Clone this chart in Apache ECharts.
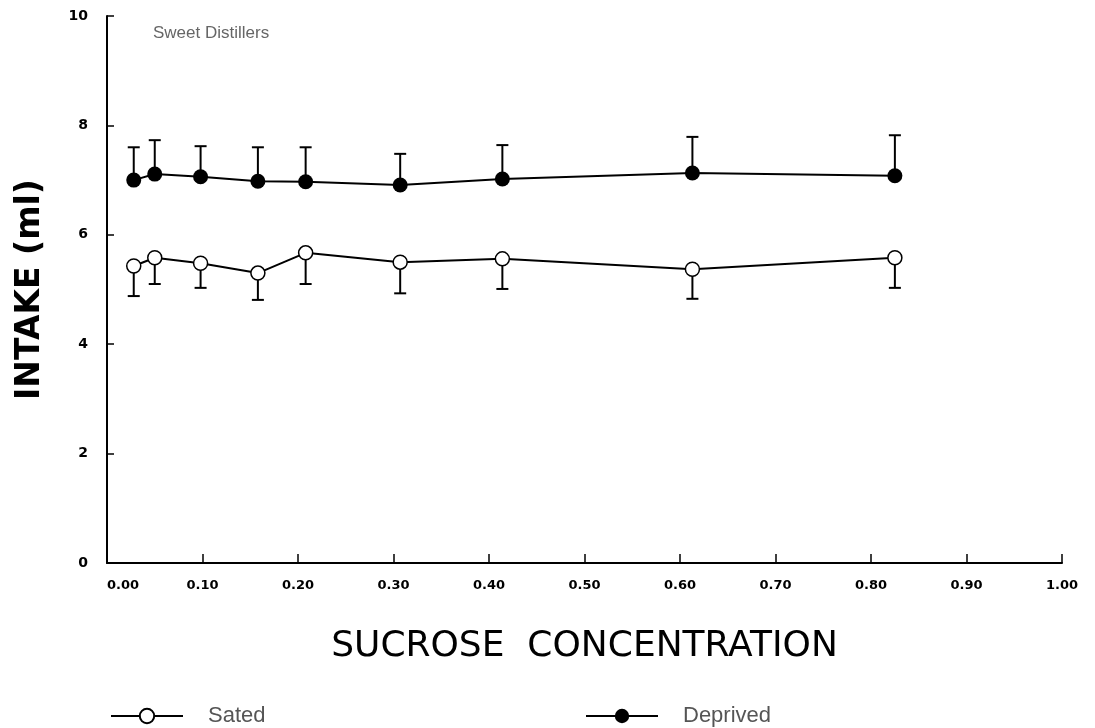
<!DOCTYPE html>
<html>
<head>
<meta charset="utf-8">
<script src="https://cdn.jsdelivr.net/npm/echarts@6/dist/echarts.min.js"></script>
<style>
  html, body { margin: 0; padding: 0; background: #fff; }
  #chart { width: 1095px; height: 728px; }
</style>
</head>
<body>
<div id="chart"></div>
<script>
// sucrose concentrations
const concentrations = [0.028, 0.050, 0.098, 0.158, 0.208, 0.307, 0.414, 0.613, 0.825];
// deprived: mean and top of error bar
const deprivedMean = [7.00, 7.11, 7.06, 6.98, 6.97, 6.91, 7.02, 7.13, 7.08];
const deprivedUpper = [7.60, 7.73, 7.62, 7.60, 7.60, 7.48, 7.64, 7.79, 7.82];
// sated: mean and bottom of error bar
const satedMean = [5.43, 5.58, 5.48, 5.30, 5.67, 5.50, 5.56, 5.37, 5.58];
const satedLower = [4.88, 5.10, 5.03, 4.81, 5.10, 4.93, 5.01, 4.83, 5.03];
const xTicks = [0, 0.1, 0.2, 0.3, 0.4, 0.5, 0.6, 0.7, 0.8, 0.9, 1.0];
const yTicks = [0, 2, 4, 6, 8, 10];

const chart = echarts.init(document.getElementById('chart'));

const errorBar = (params, api) => {
    const from = api.coord([api.value(0), api.value(1)]);
    const to = api.coord([api.value(0), api.value(2)]);
    const half = 6;
    const style = { stroke: '#000', lineWidth: 2 };
    return {
        type: 'group',
        children: [
            { type: 'line', shape: { x1: from[0], y1: from[1], x2: to[0], y2: to[1] }, style },
            { type: 'line', shape: { x1: to[0] - half, y1: to[1], x2: to[0] + half, y2: to[1] }, style }
        ]
    };
};

const legendText = { fontFamily: 'Liberation Sans', fontSize: 22, color: '#555', padding: [0, 0, 0, 20] };

chart.setOption({
    backgroundColor: '#fff',
    animation: false,
    title: {
        text: 'Sweet Distillers',
        left: 148,
        top: 20,
        textStyle: { fontFamily: 'Liberation Sans', fontSize: 17, fontWeight: 'normal', color: '#666' }
    },
    legend: [
        {
            data: ['Sated'],
            left: 105,
            top: 700,
            itemWidth: 72,
            itemHeight: 18,
            textStyle: legendText
        },
        {
            data: ['Deprived'],
            left: 580,
            top: 700,
            itemWidth: 72,
            itemHeight: 18,
            textStyle: legendText
        }
    ],
    grid: { left: 107, right: 33, top: 16, bottom: 165 },
    xAxis: {
        type: 'value',
        min: xTicks[0],
        max: xTicks[xTicks.length - 1],
        interval: 0.1,
        name: 'SUCROSE  CONCENTRATION',
        nameLocation: 'middle',
        nameGap: 66,
        nameTextStyle: { fontFamily: 'DejaVu Sans', fontSize: 36, color: '#000' },
        axisLine: { lineStyle: { color: '#000', width: 2 } },
        axisTick: { inside: true, length: 9, lineStyle: { color: '#000', width: 1.5 } },
        axisLabel: {
            formatter: v => v.toFixed(2),
            fontFamily: 'DejaVu Sans',
            fontWeight: 'bold',
            fontSize: 13,
            color: '#000',
            margin: 16,
            alignMinLabel: 'left'
        },
        splitLine: { show: false }
    },
    yAxis: {
        type: 'value',
        min: yTicks[0],
        max: yTicks[yTicks.length - 1],
        interval: 2,
        name: 'INTAKE (ml)',
        nameLocation: 'middle',
        nameGap: 60,
        nameTextStyle: { fontFamily: 'DejaVu Sans', fontWeight: 'bold', fontSize: 33, color: '#000' },
        axisLine: { show: true, lineStyle: { color: '#000', width: 2 } },
        axisTick: { show: true, inside: true, length: 7, lineStyle: { color: '#000', width: 1.5 } },
        axisLabel: {
            fontFamily: 'DejaVu Sans',
            fontWeight: 'bold',
            fontSize: 14,
            color: '#000',
            margin: 19
        },
        splitLine: { show: false }
    },
    series: [
        {
            name: 'SatedErr',
            type: 'custom',
            renderItem: errorBar,
            z: 1,
            data: concentrations.map((c, i) => [c, satedMean[i], satedLower[i]])
        },
        {
            name: 'DeprivedErr',
            type: 'custom',
            renderItem: errorBar,
            z: 1,
            data: concentrations.map((c, i) => [c, deprivedMean[i], deprivedUpper[i]])
        },
        {
            name: 'Sated',
            type: 'line',
            z: 3,
            symbol: 'circle',
            symbolSize: 14,
            lineStyle: { color: '#000', width: 2 },
            itemStyle: { color: '#fff', borderColor: '#000', borderWidth: 1.5 },
            data: concentrations.map((c, i) => [c, satedMean[i]])
        },
        {
            name: 'Deprived',
            type: 'line',
            z: 3,
            symbol: 'circle',
            symbolSize: 15,
            lineStyle: { color: '#000', width: 2 },
            itemStyle: { color: '#000' },
            data: concentrations.map((c, i) => [c, deprivedMean[i]])
        }
    ]
});
</script>
</body>
</html>
